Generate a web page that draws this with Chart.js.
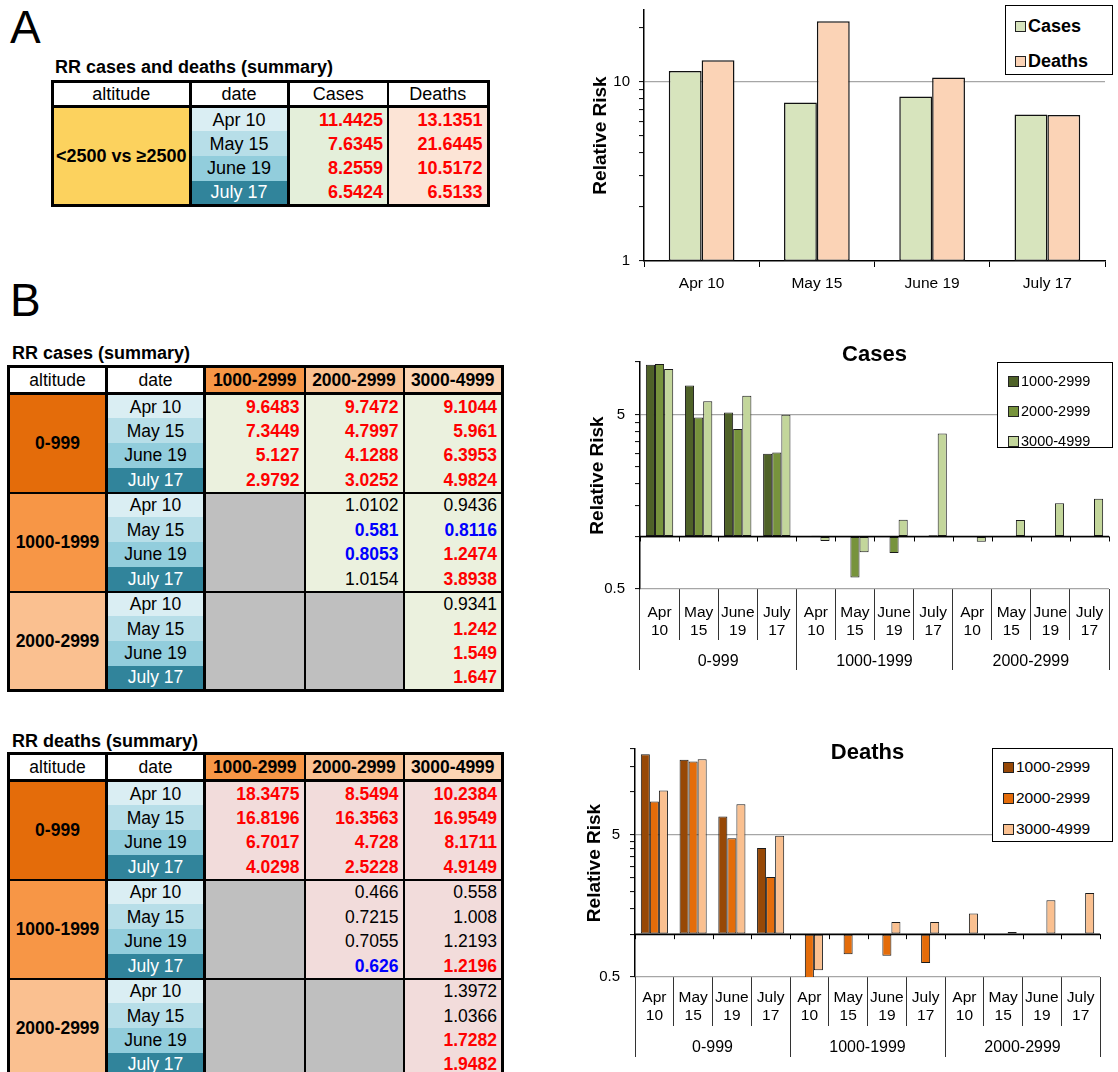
<!DOCTYPE html>
<html>
<head>
<meta charset="utf-8">
<script src="https://cdn.jsdelivr.net/npm/chart.js@4.4.1/dist/chart.umd.min.js"></script>
<style>
  body { margin: 0; width: 1118px; height: 1072px; position: relative; overflow: hidden; background: #fff;
         font-family: "Liberation Sans", Arial, sans-serif; color: #000; }
  .panel { position: absolute; font-size: 46px; line-height: 46px; }
  .ttl { position: absolute; font-weight: bold; font-size: 18px; line-height: 20px; white-space: nowrap; }
  canvas { position: absolute; }
  table.t { position: absolute; border-collapse: collapse; table-layout: fixed; border: 3px solid #000; font-size: 17.5px; }
  table.t td { padding: 0 4px; line-height: 20px; border-left: 2px solid #000; border-right: 2px solid #000;
               white-space: nowrap; overflow: hidden; }
  table.t tr { height: 24.75px; }
  table.t tr.hd { height: 27px; }
  table.t tr.hd td { border-bottom: 3px solid #000; text-align: center; background: #fff; }
  table.t tr.gs td { border-top: 2px solid #000; }
  table.ta { font-size: 18px; }
  table.ta tr.hd { height: 25px; }
  .alt { font-weight: bold; text-align: center; }
  .dt { text-align: center; border-left: 3px solid #000 !important; border-right: 3px solid #000 !important; }
  .num { text-align: right; }
  .r { color: #f00; font-weight: bold; }
  .b { color: #00f; font-weight: bold; }
  .na { background: #bfbfbf; }
  .hr { font-weight: bold; }
  .legend { position: absolute; border: 1.5px solid #000; background: #fff; box-sizing: border-box; }
  .legend .it { position: absolute; display: flex; align-items: center; white-space: nowrap; }
  .legend .sw { width: 9px; height: 9px; border: 1px solid #222; margin-right: 2px; }
</style>
</head>
<body>
<div class="panel" style="left:10px;top:4px">A</div>
<div class="panel" style="left:10px;top:277px">B</div>

<div class="ttl" style="left:55px;top:57px">RR cases and deaths (summary)</div>
<table class="t ta" id="tabA" style="left:51px;top:80px"></table>

<div class="ttl" style="left:12px;top:343px">RR cases (summary)</div>
<table class="t" id="tabCases" style="left:7px;top:365px"></table>

<div class="ttl" style="left:12px;top:731px">RR deaths (summary)</div>
<table class="t" id="tabDeaths" style="left:7px;top:752px"></table>

<canvas id="chartA" width="538" height="300" style="left:580px;top:0px"></canvas>
<canvas id="chartCases" width="538" height="345" style="left:580px;top:335px"></canvas>
<canvas id="chartDeaths" width="538" height="347" style="left:580px;top:725px"></canvas>

<script>
const FONT = '"Liberation Sans", Arial, sans-serif';

// categories
const dates = ["Apr 10", "May 15", "June 19", "July 17"];
const altitudes = ["0-999", "1000-1999", "2000-2999"];
const ranges = ["1000-2999", "2000-2999", "3000-4999"];
const altitudeA = "<2500 vs \u22652500";

// panel A: relative risk <2500 vs >=2500
const rrCasesA = [11.4425, 7.6345, 8.2559, 6.5424];
const rrDeathsA = [13.1351, 21.6445, 10.5172, 6.5133];
const sigA = "rrrr";

// panel B: 12 points per series = 4 dates x 3 altitude groups
const cases1000 = [9.6483, 7.3449, 5.127, 2.9792, null, null, null, null, null, null, null, null];
const cases2000 = [9.7472, 4.7997, 4.1288, 3.0252, 1.0102, 0.581, 0.8053, 1.0154, null, null, null, null];
const cases3000 = [9.1044, 5.961, 6.3953, 4.9824, 0.9436, 0.8116, 1.2474, 3.8938, 0.9341, 1.242, 1.549, 1.647];
const casesSig = ["rrrr........", "rrrrnbbn....", "rrrrnbrrnrrr"];

const deaths1000 = [18.3475, 16.8196, 6.7017, 4.0298, null, null, null, null, null, null, null, null];
const deaths2000 = [8.5494, 16.3563, 4.728, 2.5228, 0.466, 0.7215, 0.7055, 0.626, null, null, null, null];
const deaths3000 = [10.2384, 16.9549, 8.1711, 4.9149, 0.558, 1.008, 1.2193, 1.2196, 1.3972, 1.0366, 1.7282, 1.9482];
const deathsSig = ["rrrr........", "rrrrnnnb....", "rrrrnnnrnnrr"];

// log axis ticks (Excel style minor ticks) and the ones that get a label
const ticksA = [1, 2, 3, 4, 5, 6, 7, 8, 9, 10, 20];
const labelsA = [1, 10];
const ticksCases = [0.5, 1, 1.5, 2, 2.5, 3, 3.5, 4, 4.5, 5, 10];
const ticksDeaths = [0.5, 1, 1.5, 2, 2.5, 3, 3.5, 4, 4.5, 5, 10, 15, 20];
const labelsB = [0.5, 5];

const DATE_COLORS = ["#daeef3", "#b7dee8", "#92cddc", "#31849b"];
const ALT_COLORS = ["#e46c0a", "#f79646", "#fac090"];
const HEAD_COLORS = ["#f79646", "#fac090", "#fcd5b4"];

// ---------- tables ----------
function dateCell(k) {
  return `<td class="dt" style="background:${DATE_COLORS[k]};color:${k === 3 ? '#fff' : '#000'}">${dates[k]}</td>`;
}

function buildTableA() {
  let h = '<colgroup><col style="width:137px"><col style="width:98px"><col style="width:100px"><col style="width:100px"></colgroup>';
  h += '<tr class="hd"><td>altitude</td><td class="dt">date</td><td>Cases</td><td>Deaths</td></tr>';
  dates.forEach((d, k) => {
    h += '<tr>';
    if (k === 0) h += `<td rowspan="4" class="alt" style="background:#fcd25e;padding:0 2px">${altitudeA.replace('<', '&lt;')}</td>`;
    h += dateCell(k);
    h += `<td class="num ${sigA[k]}" style="background:#e4efda">${rrCasesA[k]}</td>`;
    h += `<td class="num ${sigA[k]}" style="background:#fce4d6">${rrDeathsA[k]}</td>`;
    h += '</tr>';
  });
  document.getElementById('tabA').innerHTML = h;
}

function buildTableB(id, series, sig, valueBg) {
  let h = '<colgroup><col style="width:98px"><col style="width:98px"><col style="width:100px"><col style="width:99px"><col style="width:99px"></colgroup>';
  h += '<tr class="hd"><td>altitude</td><td class="dt">date</td>' +
    ranges.map((r, i) => `<td class="hr" style="background:${HEAD_COLORS[i]}">${r}</td>`).join('') + '</tr>';
  altitudes.forEach((alt, g) => {
    dates.forEach((d, k) => {
      const i = g * 4 + k;
      h += `<tr class="${k === 0 ? 'gs' : ''}">`;
      if (k === 0) h += `<td rowspan="4" class="alt" style="background:${ALT_COLORS[g]}">${alt}</td>`;
      h += dateCell(k);
      series.forEach((s, j) => {
        if (s[i] === null) h += '<td class="na"></td>';
        else h += `<td class="num ${sig[j][i]}" style="background:${valueBg}">${s[i]}</td>`;
      });
      h += '</tr>';
    });
  });
  document.getElementById(id).innerHTML = h;
}

buildTableA();
buildTableB('tabCases', [cases1000, cases2000, cases3000], casesSig, '#ebf1de');
buildTableB('tabDeaths', [deaths1000, deaths2000, deaths3000], deathsSig, '#f2dcdb');

// ---------- legends (html box over the canvas) ----------
function makeLegend(chart, box) {
  const div = document.createElement('div');
  div.className = 'legend';
  Object.assign(div.style, { left: box.left + 'px', top: box.top + 'px', width: box.width + 'px', height: box.height + 'px' });
  chart.data.datasets.forEach((ds, i) => {
    const it = document.createElement('div');
    it.className = 'it';
    Object.assign(it.style, { left: box.inset + 'px', top: (box.first + i * box.step - 10) + 'px', height: '20px',
      fontSize: box.size + 'px', fontWeight: box.bold ? 'bold' : 'normal' });
    it.innerHTML = `<span class="sw" style="background:${ds.backgroundColor}"></span>${ds.label}`;
    div.appendChild(it);
  });
  document.body.appendChild(div);
}

// ---------- charts ----------
const baselineTicks = {
  id: 'baselineTicks',
  afterDatasetsDraw(chart) {
    const x = chart.scales.x, y = chart.scales.y, ctx = chart.ctx;
    const y1 = y.getPixelForValue(1);
    const half = (x.getPixelForValue(1) - x.getPixelForValue(0)) / 2;
    ctx.save();
    ctx.strokeStyle = '#000';
    ctx.lineWidth = 1.5;
    ctx.beginPath();
    ctx.moveTo(chart.chartArea.left, y1);
    ctx.lineTo(chart.chartArea.right, y1);
    ctx.stroke();
    ctx.lineWidth = 1;
    ctx.beginPath();
    for (let i = 0; i <= x.ticks.length; i++) {
      const px = Math.round(x.getPixelForValue(i) - half) + 0.5;
      ctx.moveTo(px, y1);
      ctx.lineTo(px, y1 + 5);
    }
    ctx.stroke();
    ctx.restore();
  }
};

function logAxis(min, max, tickValues, labelValues, gridAt, width, titlePad, tickPad) {
  return {
    type: 'logarithmic', min, max,
    afterBuildTicks: s => { s.ticks = tickValues.map(v => ({ value: v })); },
    afterFit: s => { s.width = width; s.paddingTop = 0; s.paddingBottom = 0; },
    border: { color: '#000', width: 1.5 },
    grid: {
      color: c => gridAt[c.tick.value] || 'rgba(0,0,0,0)',
      lineWidth: 1.2, tickColor: '#000', tickWidth: 1, tickLength: 5
    },
    ticks: {
      autoSkip: false, padding: tickPad, color: '#000', font: { size: 15, family: FONT },
      callback: v => labelValues.includes(v) ? String(v) : ''
    },
    title: { display: true, text: 'Relative Risk', color: '#000', padding: { top: titlePad, bottom: 0 },
             font: { size: 19, weight: 'bold', family: FONT } }
  };
}

const chartA = new Chart(document.getElementById('chartA'), {
  type: 'bar',
  data: {
    labels: dates,
    datasets: [
      { label: 'Cases', data: rrCasesA, backgroundColor: '#d7e4bd' },
      { label: 'Deaths', data: rrDeathsA, backgroundColor: '#fbd3b6' }
    ].map(d => Object.assign(d, { borderColor: '#111', borderWidth: 1.5, borderSkipped: false,
                                  categoryPercentage: 0.57, barPercentage: 1 }))
  },
  options: {
    responsive: false, animation: false,
    layout: { padding: { top: 10, right: 13, bottom: 0, left: 0 } },
    plugins: { legend: { display: false }, tooltip: { enabled: false } },
    scales: {
      x: {
        offset: true,
        afterFit: s => { s.height = 39; s.paddingLeft = 0; s.paddingRight = 0; },
        border: { color: '#000', width: 1.5 },
        grid: { offset: true, drawOnChartArea: false, tickLength: 6, color: '#000' },
        ticks: { autoSkip: false, maxRotation: 0, padding: 7, color: '#000', font: { size: 15.5, family: FONT } }
      },
      y: logAxis(1, 25, ticksA, labelsA, { 10: '#a6a6a6' }, 64, 9, 9)
    }
  }
});
makeLegend(chartA, { left: 1005, top: 5, width: 108, height: 70, inset: 9, first: 20, step: 35, size: 18, bold: true });

function riskChart(id, title, series, colors, o) {
  return new Chart(document.getElementById(id), {
    type: 'bar',
    data: {
      labels: altitudes.flatMap(() => dates.map(d => d.split(' '))),
      datasets: series.map((s, i) => ({
        label: ranges[i], data: s, base: 1, backgroundColor: colors[i],
        borderColor: '#1a1a1a', borderWidth: 1, borderSkipped: false,
        categoryPercentage: 0.7, barPercentage: 1
      }))
    },
    options: {
      responsive: false, animation: false,
      layout: { padding: { top: o.padTop, right: o.padRight, bottom: o.padBottom, left: 0 } },
      plugins: {
        legend: { display: false }, tooltip: { enabled: false },
        title: { display: true, text: title, fullSize: false, color: '#000',
                 font: { size: 22, weight: 'bold', family: FONT }, padding: { top: 0, bottom: o.titleGap } }
      },
      scales: {
        x: {
          offset: true, weight: 0,
          afterFit: s => { s.height = o.dateTick; },
          border: { display: false },
          grid: { offset: true, drawOnChartArea: false, tickLength: o.dateTick, color: '#333', tickColor: '#333' },
          ticks: { autoSkip: false, maxRotation: 0, minRotation: 0, padding: o.datePad, color: '#000',
                   font: { size: 15.5, family: FONT } }
        },
        x2: {
          type: 'category', axis: 'x', position: 'bottom', labels: altitudes, offset: true, weight: 1,
          afterFit: s => { s.height = o.groupTick; },
          border: { display: false },
          grid: { offset: true, drawOnChartArea: false, tickLength: o.groupTick, color: '#333', tickColor: '#333' },
          ticks: { autoSkip: false, maxRotation: 0, padding: o.groupPad, color: '#000',
                   font: { size: 16, family: FONT } }
        },
        y: logAxis(0.5, o.max, o.ticks, labelsB, { 0.5: '#a6a6a6', 5: '#a6a6a6', 1: '#000' }, o.yWidth, o.yTitlePad, 10)
      }
    },
    plugins: [baselineTicks]
  });
}

const chartCases = riskChart('chartCases', 'Cases', [cases1000, cases2000, cases3000],
  ['#4f6228', '#77933c', '#c3d69b'],
  { padTop: 6.8, titleGap: -6.2, padRight: 9, padBottom: 10, dateTick: 51, datePad: -37,
    groupTick: 30, groupPad: -17.6, max: 10, ticks: ticksCases, yWidth: 60, yTitlePad: 6 });
makeLegend(chartCases, { left: 997, top: 362, width: 116, height: 86, inset: 10, first: 18, step: 30, size: 14.5, bold: false });

const chartDeaths = riskChart('chartDeaths', 'Deaths', [deaths1000, deaths2000, deaths3000],
  ['#974806', '#e46c0a', '#fac090'],
  { padTop: 14.8, titleGap: -17.2, padRight: 18, padBottom: 15, dateTick: 49, datePad: -38,
    groupTick: 31, groupPad: -18.6, max: 20, ticks: ticksDeaths, yWidth: 55, yTitlePad: 3 });
makeLegend(chartDeaths, { left: 992, top: 748, width: 121, height: 94, inset: 10, first: 18, step: 31, size: 15.5, bold: false });
</script>
</body>
</html>
